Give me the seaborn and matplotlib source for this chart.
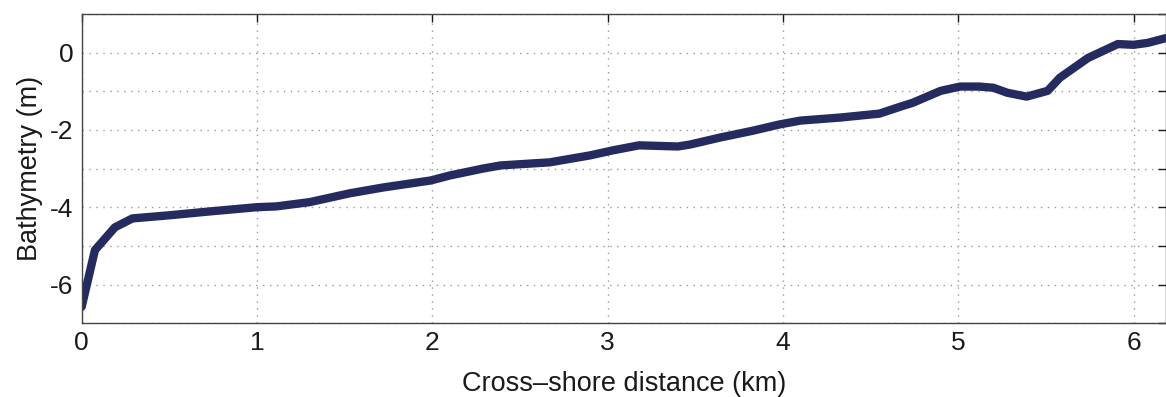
import matplotlib
matplotlib.use("Agg")
import matplotlib.pyplot as plt
import seaborn as sns
import pandas as pd

distance_km = [0.00, 0.076, 0.19, 0.29, 0.50, 0.73, 1.00, 1.11, 1.30, 1.53, 1.72,
               1.99, 2.10, 2.29, 2.39, 2.67, 2.90, 3.03, 3.18, 3.40, 3.47, 3.64,
               3.83, 3.98, 4.10, 4.33, 4.55, 4.67, 4.74, 4.90, 5.01, 5.12, 5.20,
               5.28, 5.39, 5.51, 5.58, 5.74, 5.91, 6.00, 6.08, 6.19]
depth_m = [-6.58, -5.11, -4.52, -4.29, -4.21, -4.11, -4.00, -3.98, -3.87, -3.64, -3.49,
           -3.31, -3.18, -3.00, -2.92, -2.84, -2.66, -2.53, -2.40, -2.43, -2.38, -2.20,
           -2.02, -1.86, -1.76, -1.68, -1.58, -1.40, -1.30, -0.99, -0.88, -0.88, -0.91,
           -1.04, -1.14, -0.99, -0.65, -0.14, 0.22, 0.20, 0.25, 0.38]

x_ticks = [0, 1, 2, 3, 4, 5, 6]
y_ticks = [-7, -6, -5, -4, -3, -2, -1, 0, 1]
y_tick_labels = ["", "-6", "", "-4", "", "-2", "", "0", ""]

sns.set_theme(style="white")
plt.rcParams["font.family"] = ["Liberation Sans", "DejaVu Sans"]
plt.rcParams["axes.unicode_minus"] = False

df = pd.DataFrame({"x": distance_km, "y": depth_m})

fig = plt.figure(figsize=(11.66, 3.97), dpi=100)
ax = fig.add_axes([0.070, 0.186, 0.930, 0.779])

sns.lineplot(data=df, x="x", y="y", ax=ax, color="#262b5f", linewidth=6.0,
             solid_joinstyle="round", solid_capstyle="round")

ax.set_xlim(0, 6.185)
ax.set_ylim(-7, 1)
ax.set_xticks(x_ticks)
ax.set_xticklabels([str(t) for t in x_ticks])
ax.set_yticks(y_ticks)
ax.set_yticklabels(y_tick_labels)

ax.grid(True, linestyle=(0, (1, 4)), color="#999999", linewidth=1.0)
ax.tick_params(direction="in", length=6, width=1, top=True, right=True,
               labelsize=19, colors="#1a1a1a", pad=6)
for s in ax.spines.values():
    s.set_visible(True)
    s.set_color("#444444")
    s.set_linewidth(1.0)

ax.set_xlabel("Cross–shore distance (km)", fontsize=19.5, color="#1a1a1a", labelpad=11)
ax.set_ylabel("Bathymetry (m)", fontsize=19.5, color="#1a1a1a", labelpad=5)

fig.savefig("out.png", dpi=100)
